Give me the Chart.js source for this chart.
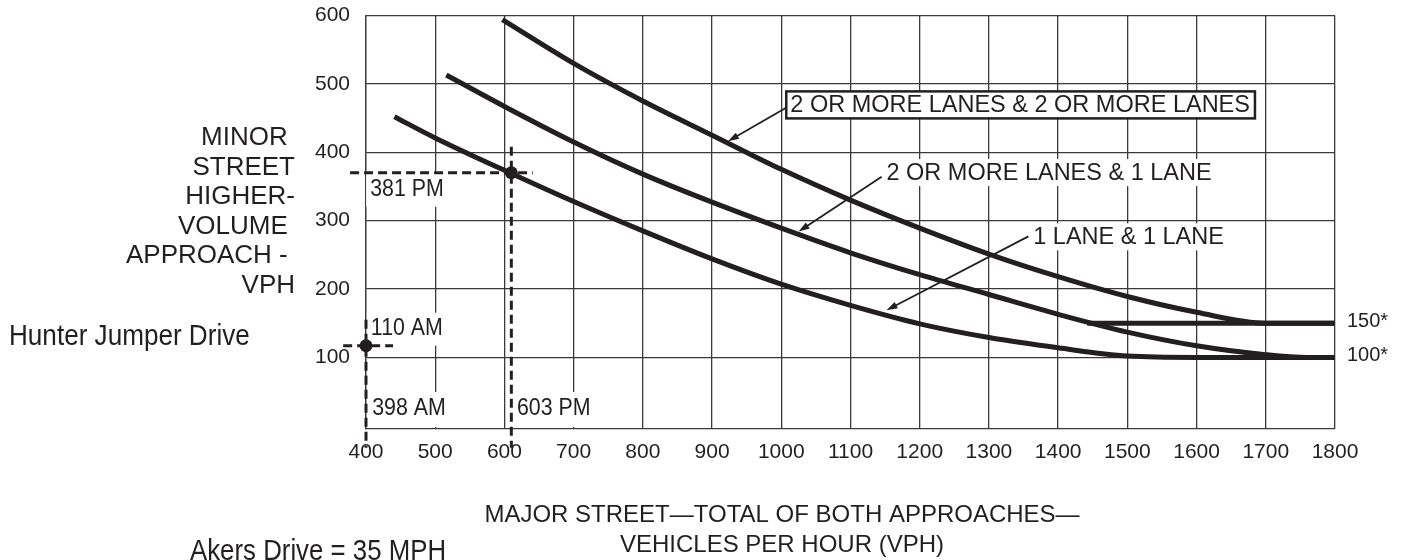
<!DOCTYPE html>
<html>
<head>
<meta charset="utf-8">
<script src="https://cdn.jsdelivr.net/npm/chart.js@4.4.0/dist/chart.umd.min.js"></script>
<style>
  html, body { margin: 0; padding: 0; background: #fff; }
  #wrap { width: 1403px; height: 560px; position: relative; }
</style>
</head>
<body>
<div id="wrap"><canvas id="warrantChart"></canvas></div>
<script>
// axis ticks
const xTicks = [400, 500, 600, 700, 800, 900, 1000, 1100, 1200, 1300, 1400, 1500, 1600, 1700, 1800];
const yTicks = [100, 200, 300, 400, 500, 600];

// warrant curves (major street vph -> minor street vph)
const twoTwoX = [597, 700, 800, 900, 1000, 1100, 1200, 1300, 1400, 1500, 1600, 1700, 1800];
const twoTwoY = [594, 530, 475, 425, 375, 330, 289, 251, 218, 189, 166, 150, 150];

const twoOneX = [516, 600, 700, 800, 900, 1000, 1100, 1200, 1300, 1400, 1500, 1600, 1700, 1760, 1800];
const twoOneY = [513, 467, 415, 368, 327, 289, 253, 221, 192, 163, 137, 117, 104, 100, 100];

const oneOneX = [441, 500, 610, 700, 800, 900, 1000, 1100, 1200, 1300, 1400, 1500, 1600, 1800];
const oneOneY = [452, 421, 369, 328, 285, 244, 207, 176, 149, 129, 114, 102, 100, 100];

const floorX = [1442, 1800];
const floorY = [150, 150];

// the two count points and their guide lines
const pmX = 610, pmY = 370;
const amX = 400, amY = 117;
const pmGuideX = [377, 641];
const pmGuideY = [408, -32];
const amGuideX = [367, 439];
const amGuideY = [155, -32];

const curveLabels = ['2 OR MORE LANES & 2 OR MORE LANES', '2 OR MORE LANES & 1 LANE', '1 LANE & 1 LANE'];
const countLabels = ['381 PM', '603 PM', '110 AM', '398 AM'];
const floorLabels = ['150*', '100*'];
const yTitle = ['MINOR ', 'STREET', 'HIGHER-', 'VOLUME ', 'APPROACH - ', 'VPH'];
const xTitle = ['MAJOR STREET\u2014TOTAL OF BOTH APPROACHES\u2014', 'VEHICLES PER HOUR (VPH)'];

const INK = '#231f20';
const GRID = '#3a3a3a';
const FONT = "'Liberation Sans', Arial, Helvetica, sans-serif";

const pts = (xs, ys) => xs.map((v, i) => ({ x: v, y: ys[i] }));

function curve(xs, ys) {
  return {
    data: pts(xs, ys),
    showLine: true,
    borderColor: INK,
    borderWidth: 5,
    pointRadius: 0,
    cubicInterpolationMode: 'monotone',
    borderCapStyle: 'butt'
  };
}

function guide(data) {
  return {
    data: data,
    showLine: true,
    borderColor: INK,
    borderWidth: 3,
    borderDash: [9, 5],
    pointRadius: 0,
    clip: false
  };
}

function text(ctx, str, x, y, size, align, squeeze, baseline) {
  ctx.save();
  ctx.font = size + 'px ' + FONT;
  ctx.fillStyle = INK;
  ctx.textAlign = align || 'left';
  ctx.textBaseline = baseline || 'middle';
  ctx.translate(x, y);
  ctx.scale(squeeze || 1, 1);
  ctx.fillText(str, 0, 0);
  ctx.restore();
}

function arrow(ctx, x0, y0, x1, y1) {
  const a = Math.atan2(y1 - y0, x1 - x0);
  ctx.save();
  ctx.strokeStyle = INK;
  ctx.fillStyle = INK;
  ctx.lineWidth = 1.8;
  ctx.beginPath();
  ctx.moveTo(x0, y0);
  ctx.lineTo(x1 - 6 * Math.cos(a), y1 - 6 * Math.sin(a));
  ctx.stroke();
  ctx.beginPath();
  ctx.moveTo(x1, y1);
  ctx.lineTo(x1 - 11 * Math.cos(a) + 3.5 * Math.sin(a), y1 - 11 * Math.sin(a) - 3.5 * Math.cos(a));
  ctx.lineTo(x1 - 11 * Math.cos(a) - 3.5 * Math.sin(a), y1 - 11 * Math.sin(a) + 3.5 * Math.cos(a));
  ctx.closePath();
  ctx.fill();
  ctx.restore();
}

// callout anchors in data units: label left/middle, arrow start, arrow tip
const callouts = [
  { lx: 1013, ly: 470, sx: 1007, sy: 465, tx: 923, ty: 416, boxed: true },
  { lx: 1152, ly: 371, sx: 1145, sy: 364, tx: 1025, ty: 284 },
  { lx: 1364, ly: 277, sx: 1357, sy: 277, tx: 1152, ty: 169 }
];

const notesPlugin = {
  id: 'notes',
  beforeDatasetsDraw(chart) {
    const { ctx, scales: { x, y } } = chart;
    ctx.save();
    ctx.font = '23.5px ' + FONT;
    callouts.forEach((c, i) => {
      const px = x.getPixelForValue(c.lx), py = y.getPixelForValue(c.ly);
      const w = ctx.measureText(curveLabels[i]).width;
      ctx.fillStyle = '#fff';
      ctx.fillRect(px - 4, py - 13, w + 9, 27);
      if (c.boxed) {
        ctx.strokeStyle = INK;
        ctx.lineWidth = 2.5;
        ctx.strokeRect(px - 4, py - 13, w + 9, 27);
      }
      text(ctx, curveLabels[i], px, py + 1, 23.5, 'left');
    });

    // count labels beside the guide lines
    const spots = [[406, 345], [618, 26], [407, 142], [409, 26]];
    ctx.font = '24px ' + FONT;
    spots.forEach((s, i) => {
      const px = x.getPixelForValue(s[0]), py = y.getPixelForValue(s[1]);
      const w = ctx.measureText(countLabels[i]).width * 0.89;
      ctx.fillStyle = '#fff';
      ctx.fillRect(px - 4, py - 16, w + 8, i === 1 || i === 3 ? 35 : 33);
      text(ctx, countLabels[i], px, py, 24, 'left', 0.89);
    });
    ctx.restore();
  },
  afterDatasetsDraw(chart) {
    const { ctx, scales: { x, y } } = chart;
    callouts.forEach(c => {
      arrow(ctx, x.getPixelForValue(c.sx), y.getPixelForValue(c.sy),
        x.getPixelForValue(c.tx), y.getPixelForValue(c.ty));
    });
  },
  afterDraw(chart) {
    const { ctx, chartArea, scales: { y } } = chart;
    text(ctx, floorLabels[0], chartArea.right + 12, y.getPixelForValue(152), 20, 'left');
    text(ctx, floorLabels[1], chartArea.right + 12, y.getPixelForValue(103), 20, 'left');

    yTitle.forEach((line, i) => text(ctx, line, 295, 138 + i * 29.5, 26, 'right'));
    text(ctx, xTitle[0], 782, 521.5, 24, 'center', 1, 'alphabetic');
    text(ctx, xTitle[1], 782, 551.5, 24, 'center', 1, 'alphabetic');

    text(ctx, 'Hunter Jumper Drive', 9, 337, 29, 'left', 0.9);
    text(ctx, 'Akers Drive = 35 MPH', 190, 560, 29, 'left', 0.89, 'alphabetic');
  }
};

new Chart(document.getElementById('warrantChart'), {
  type: 'scatter',
  data: {
    datasets: [
      curve(twoTwoX, twoTwoY),
      curve(twoOneX, twoOneY),
      curve(oneOneX, oneOneY),
      curve(floorX, floorY),
      guide([{ x: pmGuideX[0], y: pmY }, { x: pmGuideX[1], y: pmY }]),
      guide([{ x: pmX, y: pmGuideY[0] }, { x: pmX, y: pmGuideY[1] }]),
      guide([{ x: amGuideX[0], y: amY }, { x: amGuideX[1], y: amY }]),
      guide([{ x: amX, y: amGuideY[0] }, { x: amX, y: amGuideY[1] }]),
      {
        data: [{ x: pmX, y: pmY }, { x: amX, y: amY }],
        pointRadius: 6.5,
        pointBackgroundColor: INK,
        pointBorderWidth: 0,
        clip: false
      }
    ]
  },
  options: {
    responsive: true,
    maintainAspectRatio: false,
    animation: false,
    layout: { padding: { top: 15.5, right: 68, bottom: 0, left: 0 } },
    plugins: { legend: { display: false }, tooltip: { enabled: false } },
    scales: {
      x: {
        type: 'linear',
        min: 400,
        max: 1800,
        afterBuildTicks: s => { s.ticks = xTicks.map(v => ({ value: v })); },
        afterFit: s => { s.height = 131.5; },
        ticks: { color: INK, padding: 0, maxRotation: 0, font: { size: 21, family: FONT }, callback: v => String(v) },
        grid: { color: GRID, lineWidth: 1.3, drawTicks: true, tickLength: 11, tickColor: 'rgba(0,0,0,0)' },
        border: { color: GRID, width: 1.3 }
      },
      y: {
        type: 'linear',
        min: -4,
        max: 600,
        afterBuildTicks: s => { s.ticks = yTicks.map(v => ({ value: v })); },
        afterFit: s => { s.width = 366; },
        ticks: { color: INK, padding: 0, font: { size: 21, family: FONT }, callback: v => String(v) },
        grid: { color: GRID, lineWidth: 1.3, drawTicks: true, tickLength: 16, tickColor: 'rgba(0,0,0,0)' },
        border: { color: GRID, width: 1.3 }
      }
    }
  },
  plugins: [notesPlugin]
});
</script>
</body>
</html>
